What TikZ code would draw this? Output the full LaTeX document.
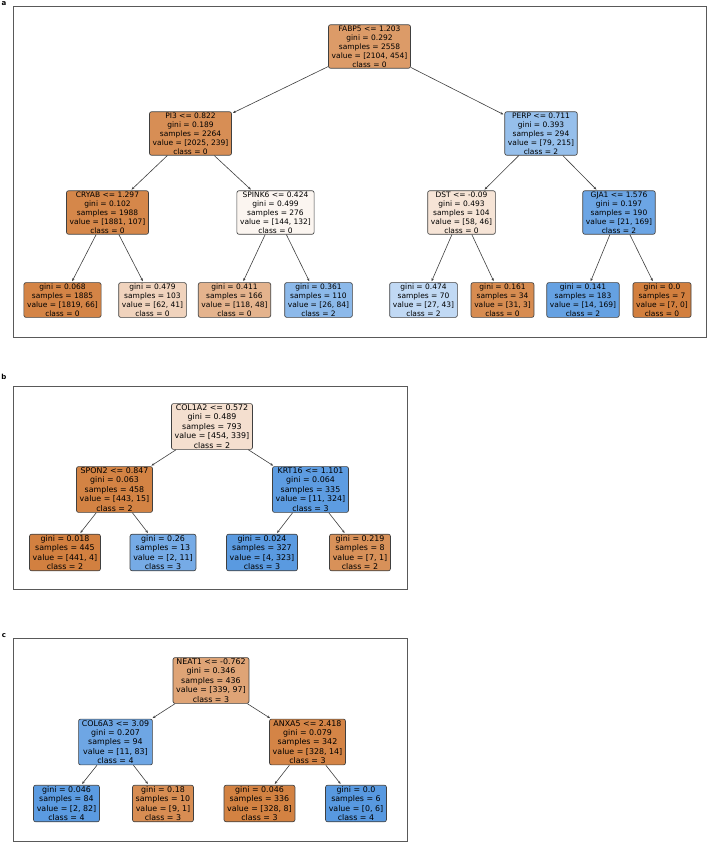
\documentclass[tikz,border=0pt]{standalone}
\usepackage{fontspec}
\setmainfont{DejaVu Sans}
\usetikzlibrary{arrows.meta}
\definecolor{ora}{RGB}{210,127,62}
\definecolor{blu}{RGB}{88,153,224}
\tikzset{
  tn/.style={draw=black!75, rounded corners=2pt, line width=0.65pt, align=center,
    inner xsep=3.2pt, inner ysep=1.1pt, font=\fontsize{7.5}{8.9}\selectfont},
  tnb/.style={tn, font=\fontsize{7.9}{9.4}\selectfont},
  conn/.style={draw=black!75, line width=0.6pt, -{Stealth[length=3pt,width=2.4pt]}, shorten >=1.2pt},
  panelframe/.style={draw=black!65, line width=0.9pt},
  plabel/.style={font=\fontsize{7}{8}\selectfont\bfseries, inner sep=0pt}
}
\begin{document}
\begin{tikzpicture}[x=1pt,y=-1pt]
\useasboundingbox[fill=white] (0,0) rectangle (708,843);
% ---------------- panel a ----------------
\node[plabel] (la) at (4,4) {a};
\draw[panelframe] (13,6) rectangle (706,337);
\node[tn, fill=ora!78!white] (a0) at (369.5,46.5) {FABP5 <= 1.203\\gini = 0.292\\samples = 2558\\value = [2104, 454]\\class = 0};
\node[tn, fill=ora!88!white] (a1) at (190.5,133.5) {PI3 <= 0.822\\gini = 0.189\\samples = 2264\\value = [2025, 239]\\class = 0};
\node[tn, fill=blu!63!white] (a2) at (541,133.5) {PERP <= 0.711\\gini = 0.393\\samples = 294\\value = [79, 215]\\class = 2};
\node[tn, fill=ora!94!white] (a3) at (107.5,212.5) {CRYAB <= 1.297\\gini = 0.102\\samples = 1988\\value = [1881, 107]\\class = 0};
\node[tn, fill=ora!8!white] (a4) at (275.5,212.5) {SPINK6 <= 0.424\\gini = 0.499\\samples = 276\\value = [144, 132]\\class = 0};
\node[tn, fill=ora!21!white] (a5) at (461.5,212.5) {DST <= -0.09\\gini = 0.493\\samples = 104\\value = [58, 46]\\class = 0};
\node[tn, fill=blu!88!white] (a6) at (619,212.5) {GJA1 <= 1.576\\gini = 0.197\\samples = 190\\value = [21, 169]\\class = 2};
\node[tn, fill=ora!96!white] (a7) at (62.5,300) {gini = 0.068\\samples = 1885\\value = [1819, 66]\\class = 0};
\node[tn, fill=ora!34!white] (a8) at (152.5,300) {gini = 0.479\\samples = 103\\value = [62, 41]\\class = 0};
\node[tn, fill=ora!59!white] (a9) at (234.5,300) {gini = 0.411\\samples = 166\\value = [118, 48]\\class = 0};
\node[tn, fill=blu!69!white] (a10) at (318.5,300) {gini = 0.361\\samples = 110\\value = [26, 84]\\class = 2};
\node[tn, fill=blu!37!white] (a11) at (423.5,300) {gini = 0.474\\samples = 70\\value = [27, 43]\\class = 2};
\node[tn, fill=ora!90!white] (a12) at (502.5,300) {gini = 0.161\\samples = 34\\value = [31, 3]\\class = 0};
\node[tn, fill=blu!92!white] (a13) at (583,300) {gini = 0.141\\samples = 183\\value = [14, 169]\\class = 2};
\node[tn, fill=ora!100!white] (a14) at (662,300) {gini = 0.0\\samples = 7\\value = [7, 0]\\class = 0};
\draw[conn] (a0) -- (a1);
\draw[conn] (a0) -- (a2);
\draw[conn] (a1) -- (a3);
\draw[conn] (a1) -- (a4);
\draw[conn] (a2) -- (a5);
\draw[conn] (a2) -- (a6);
\draw[conn] (a3) -- (a7);
\draw[conn] (a3) -- (a8);
\draw[conn] (a4) -- (a9);
\draw[conn] (a4) -- (a10);
\draw[conn] (a5) -- (a11);
\draw[conn] (a5) -- (a12);
\draw[conn] (a6) -- (a13);
\draw[conn] (a6) -- (a14);
% ---------------- panel b ----------------
\node[plabel] (lb) at (4,377) {b};
\draw[panelframe] (13,386) rectangle (407,589);
\node[tnb, fill=ora!25!white] (b0) at (212,426.5) {COL1A2 <= 0.572\\gini = 0.489\\samples = 793\\value = [454, 339]\\class = 2};
\node[tnb, fill=ora!97!white] (b1) at (114.5,489.5) {SPON2 <= 0.847\\gini = 0.063\\samples = 458\\value = [443, 15]\\class = 2};
\node[tnb, fill=blu!97!white] (b2) at (310.5,489.5) {KRT16 <= 1.101\\gini = 0.064\\samples = 335\\value = [11, 324]\\class = 3};
\node[tnb, fill=ora!99!white] (b3) at (65,552.5) {gini = 0.018\\samples = 445\\value = [441, 4]\\class = 2};
\node[tnb, fill=blu!82!white] (b4) at (163,552.5) {gini = 0.26\\samples = 13\\value = [2, 11]\\class = 3};
\node[tnb, fill=blu!99!white] (b5) at (262,552.5) {gini = 0.024\\samples = 327\\value = [4, 323]\\class = 3};
\node[tnb, fill=ora!86!white] (b6) at (360,552.5) {gini = 0.219\\samples = 8\\value = [7, 1]\\class = 2};
\draw[conn] (b0) -- (b1);
\draw[conn] (b0) -- (b2);
\draw[conn] (b1) -- (b3);
\draw[conn] (b1) -- (b4);
\draw[conn] (b2) -- (b5);
\draw[conn] (b2) -- (b6);
% ---------------- panel c ----------------
\node[plabel] (lc) at (4,635.5) {c};
\draw[panelframe] (13,638) rectangle (407,841);
\node[tnb, fill=ora!71!white] (c0) at (211,680.5) {NEAT1 <= -0.762\\gini = 0.346\\samples = 436\\value = [339, 97]\\class = 3};
\node[tnb, fill=blu!87!white] (c1) at (115.5,742) {COL6A3 <= 3.09\\gini = 0.207\\samples = 94\\value = [11, 83]\\class = 4};
\node[tnb, fill=ora!96!white] (c2) at (307.5,742) {ANXA5 <= 2.418\\gini = 0.079\\samples = 342\\value = [328, 14]\\class = 3};
\node[tnb, fill=blu!98!white] (c3) at (66.5,803.5) {gini = 0.046\\samples = 84\\value = [2, 82]\\class = 4};
\node[tnb, fill=ora!89!white] (c4) at (163,803.5) {gini = 0.18\\samples = 10\\value = [9, 1]\\class = 3};
\node[tnb, fill=ora!98!white] (c5) at (259.5,803.5) {gini = 0.046\\samples = 336\\value = [328, 8]\\class = 3};
\node[tnb, fill=blu!100!white] (c6) at (356,803.5) {gini = 0.0\\samples = 6\\value = [0, 6]\\class = 4};
\draw[conn] (c0) -- (c1);
\draw[conn] (c0) -- (c2);
\draw[conn] (c1) -- (c3);
\draw[conn] (c1) -- (c4);
\draw[conn] (c2) -- (c5);
\draw[conn] (c2) -- (c6);
\end{tikzpicture}
\end{document}
